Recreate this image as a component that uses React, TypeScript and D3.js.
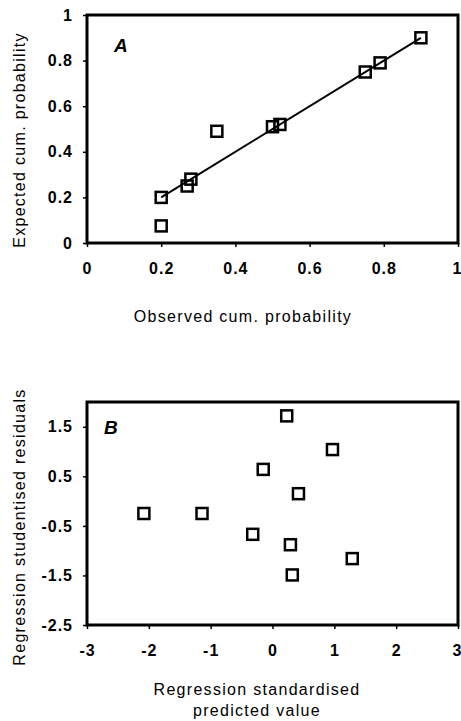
import React, { useEffect, useRef } from "react";
import * as d3 from "d3";

// panel A: normal P-P plot
const observedA = [0.2, 0.2, 0.27, 0.28, 0.35, 0.5, 0.52, 0.75, 0.79, 0.9];
const expectedA = [0.2, 0.075, 0.25, 0.28, 0.49, 0.51, 0.52, 0.75, 0.79, 0.9];
const fitLineA = [0.2, 0.9];
const ticksA = [0, 0.2, 0.4, 0.6, 0.8, 1];

// panel B: residuals vs predicted
const predictedB = [0.23, 0.97, -0.15, 0.42, -2.08, -1.14, -0.32, 0.29, 1.29, 0.32];
const residualsB = [1.72, 1.04, 0.64, 0.15, -0.25, -0.25, -0.67, -0.88, -1.16, -1.49];
const xTicksB = [-3, -2, -1, 0, 1, 2, 3];
const yTicksB = [1.5, 0.5, -0.5, -1.5, -2.5];

const FONT = "'Liberation Sans', Arial, Helvetica, sans-serif";
const BOX = 11;

type Panel = {
  top: number;
  bottom: number;
  xDomain: [number, number];
  yDomain: [number, number];
  xTicks: number[];
  yTicks: number[];
  tag: string;
  tagPos: [number, number];
};

function drawPanel(svg: d3.Selection<SVGSVGElement, unknown, null, undefined>, p: Panel) {
  const left = 87, right = 458;
  const x = d3.scaleLinear().domain(p.xDomain).range([left, right]);
  const y = d3.scaleLinear().domain(p.yDomain).range([p.bottom, p.top]);
  const g = svg.append("g");

  const styleAxis = (a: d3.Selection<SVGGElement, unknown, null, undefined>) => {
    a.select(".domain").remove();
    a.selectAll("line").attr("stroke", "#000").attr("stroke-width", 1.5);
    a.selectAll("text")
      .attr("fill", "#000")
      .style("font-family", FONT)
      .style("font-size", "16px")
      .style("font-weight", "bold")
      .style("letter-spacing", "1px");
  };

  const xAxis = g.append("g")
    .attr("transform", `translate(0,${p.bottom})`)
    .call(d3.axisBottom(x).tickValues(p.xTicks).tickSize(4).tickPadding(16).tickFormat(d => String(d)))
    .call(styleAxis);
  // last label sits on the right edge, keep it inside the page
  xAxis.selectAll<SVGTextElement, number>("text")
    .filter(d => d === p.xDomain[1])
    .attr("text-anchor", "end")
    .attr("x", 4);

  g.append("g")
    .attr("transform", `translate(${left},0)`)
    .call(d3.axisLeft(y).tickValues(p.yTicks).tickSize(4).tickPadding(10).tickFormat(d => String(d)))
    .call(styleAxis);

  g.append("rect")
    .attr("x", left)
    .attr("y", p.top)
    .attr("width", right - left)
    .attr("height", p.bottom - p.top)
    .attr("fill", "none")
    .attr("stroke", "#000")
    .attr("stroke-width", 3);

  g.append("text")
    .attr("x", p.tagPos[0])
    .attr("y", p.tagPos[1])
    .style("font-family", FONT)
    .style("font-size", "19px")
    .style("font-weight", "bold")
    .style("font-style", "italic")
    .text(p.tag);

  return { g, x, y };
}

export default function App() {
  const ref = useRef<SVGSVGElement>(null);

  useEffect(() => {
    const svg = d3.select(ref.current!);
    svg.selectAll("*").remove();

    // ---- A
    const a = drawPanel(svg, {
      top: 15, bottom: 243,
      xDomain: [0, 1], yDomain: [0, 1],
      xTicks: ticksA, yTicks: ticksA,
      tag: "A", tagPos: [114, 52],
    });
    a.g.append("line")
      .attr("x1", a.x(fitLineA[0])).attr("y1", a.y(fitLineA[0]))
      .attr("x2", a.x(fitLineA[1])).attr("y2", a.y(fitLineA[1]))
      .attr("stroke", "#000").attr("stroke-width", 2);
    a.g.selectAll("rect.pt")
      .data(observedA.map((v, i) => [v, expectedA[i]]))
      .join("rect")
      .attr("class", "pt")
      .attr("x", d => a.x(d[0]) - BOX / 2)
      .attr("y", d => a.y(d[1]) - BOX / 2)
      .attr("width", BOX).attr("height", BOX)
      .attr("fill", "none").attr("stroke", "#000").attr("stroke-width", 2.5);

    // ---- B
    const b = drawPanel(svg, {
      top: 402, bottom: 625,
      xDomain: [-3, 3], yDomain: [-2.5, 2.0],
      xTicks: xTicksB, yTicks: yTicksB,
      tag: "B", tagPos: [104, 434],
    });
    b.g.selectAll("rect.pt")
      .data(predictedB.map((v, i) => [v, residualsB[i]]))
      .join("rect")
      .attr("class", "pt")
      .attr("x", d => b.x(d[0]) - BOX / 2)
      .attr("y", d => b.y(d[1]) - BOX / 2)
      .attr("width", BOX).attr("height", BOX)
      .attr("fill", "none").attr("stroke", "#000").attr("stroke-width", 2.5);

    // axis titles
    const title = (sel: any) =>
      sel.style("font-family", FONT).style("font-size", "16px").style("letter-spacing", "1.3px")
        .attr("text-anchor", "middle").attr("fill", "#000");

    svg.append("text").attr("transform", "translate(25,140) rotate(-90)")
      .call(title).text("Expected cum. probability");
    svg.append("text").attr("x", 243).attr("y", 322)
      .call(title).text("Observed cum. probability");
    svg.append("text").attr("transform", "translate(25,527) rotate(-90)")
      .call(title).text("Regression studentised residuals");
    svg.append("text").attr("x", 257).attr("y", 695)
      .call(title).text("Regression standardised");
    svg.append("text").attr("x", 257).attr("y", 716)
      .call(title).text("predicted value");
  }, []);

  return (
    <svg
      ref={ref}
      width={461}
      height={721}
      style={{ position: "absolute", left: 0, top: 0, background: "#fff" }}
    />
  );
}
